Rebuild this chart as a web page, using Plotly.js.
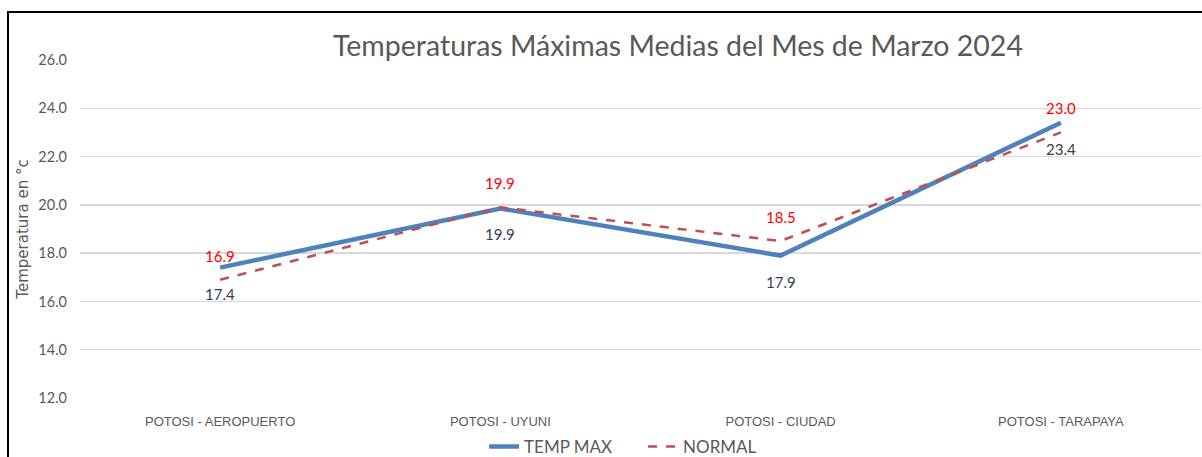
<!DOCTYPE html>
<html>
<head>
<meta charset="utf-8">
<script src="https://cdn.plot.ly/plotly-3.0.1.min.js"></script>
<style>
  html, body { margin: 0; padding: 0; background: #fff; }
  #wrap { position: relative; width: 1202px; height: 457px; overflow: hidden; }
  #chart { width: 1202px; height: 457px; }
  #frame { position: absolute; left: 7px; top: 11px; width: 1300px; height: 600px;
           border: 2px solid #000; box-sizing: border-box; pointer-events: none; }
</style>
</head>
<body>
<div id="wrap">
  <div id="chart"></div>
  <div id="frame"></div>
</div>
<script>
const categories = ["POTOSI - AEROPUERTO", "POTOSI - UYUNI", "POTOSI - CIUDAD", "POTOSI - TARAPAYA"];
const tempMax = [17.4, 19.85, 17.9, 23.4];
const tempMaxLabels = ["17.4", "19.9", "17.9", "23.4"];
const normal = [16.9, 19.9, 18.5, 23.0];
const normalLabels = ["16.9", "19.9", "18.5", "23.0"];
const yTickVals = [12, 14, 16, 18, 20, 22, 24, 26];

const traces = [
  {
    x: categories, y: tempMax, type: "scatter", mode: "lines", name: "TEMP MAX",
    line: { color: "#4F81BD", width: 4.5 }
  },
  {
    x: categories, y: normal, type: "scatter", mode: "lines", name: "NORMAL",
    line: { color: "#C0504D", width: 2.5, dash: "dash" }
  }
];

const annotations = [];
categories.forEach((c, i) => {
  annotations.push({
    x: c, y: normal[i], text: normalLabels[i], showarrow: false, yshift: 24,
    font: { family: "Lato, sans-serif", size: 15, color: "#FF0000" }
  });
  annotations.push({
    x: c, y: tempMax[i], text: tempMaxLabels[i], showarrow: false, yshift: -26,
    font: { family: "Lato, sans-serif", size: 15, color: "#333F50" }
  });
});

const layout = {
  width: 1202, height: 457,
  margin: { l: 80, r: 1, t: 60, b: 59, autoexpand: false },
  paper_bgcolor: "#fff", plot_bgcolor: "#fff",
  title: {
    text: "Temperaturas Máximas Medias del Mes de Marzo 2024",
    font: { family: "Lato, sans-serif", size: 28.5, color: "#595959" },
    x: 0.564, xanchor: "center", y: 0.9, yanchor: "middle"
  },
  xaxis: {
    type: "category", range: [-0.5, 3.5], showgrid: false, zeroline: false,
    showline: false, ticks: "", ticklabelstandoff: 14, automargin: false,
    tickfont: { family: "Liberation Sans Narrow, Arial Narrow, sans-serif", size: 13, color: "#595959" }
  },
  yaxis: {
    range: [12, 26], tickvals: yTickVals, tickformat: ".1f", automargin: false,
    showgrid: true, gridcolor: "#D9D9D9", gridwidth: 1.3, zeroline: false, showline: false,
    ticks: "", ticklabelstandoff: 12,
    tickfont: { family: "Lato, sans-serif", size: 14.5, color: "#595959" },
    title: {
      text: "Temperatura en °c", standoff: 6,
      font: { family: "DejaVu Sans, sans-serif", size: 15, color: "#595959" }
    }
  },
  showlegend: true,
  legend: {
    orientation: "h", x: 0.535, xanchor: "center", xref: "container",
    y: 0.022, yanchor: "middle", yref: "container",
    font: { family: "Lato, sans-serif", size: 17, color: "#595959" },
    bgcolor: "rgba(0,0,0,0)", entrywidth: 114
  },
  annotations: annotations
};

Plotly.newPlot("chart", traces, layout, { displayModeBar: false, staticPlot: true });
</script>
</body>
</html>
